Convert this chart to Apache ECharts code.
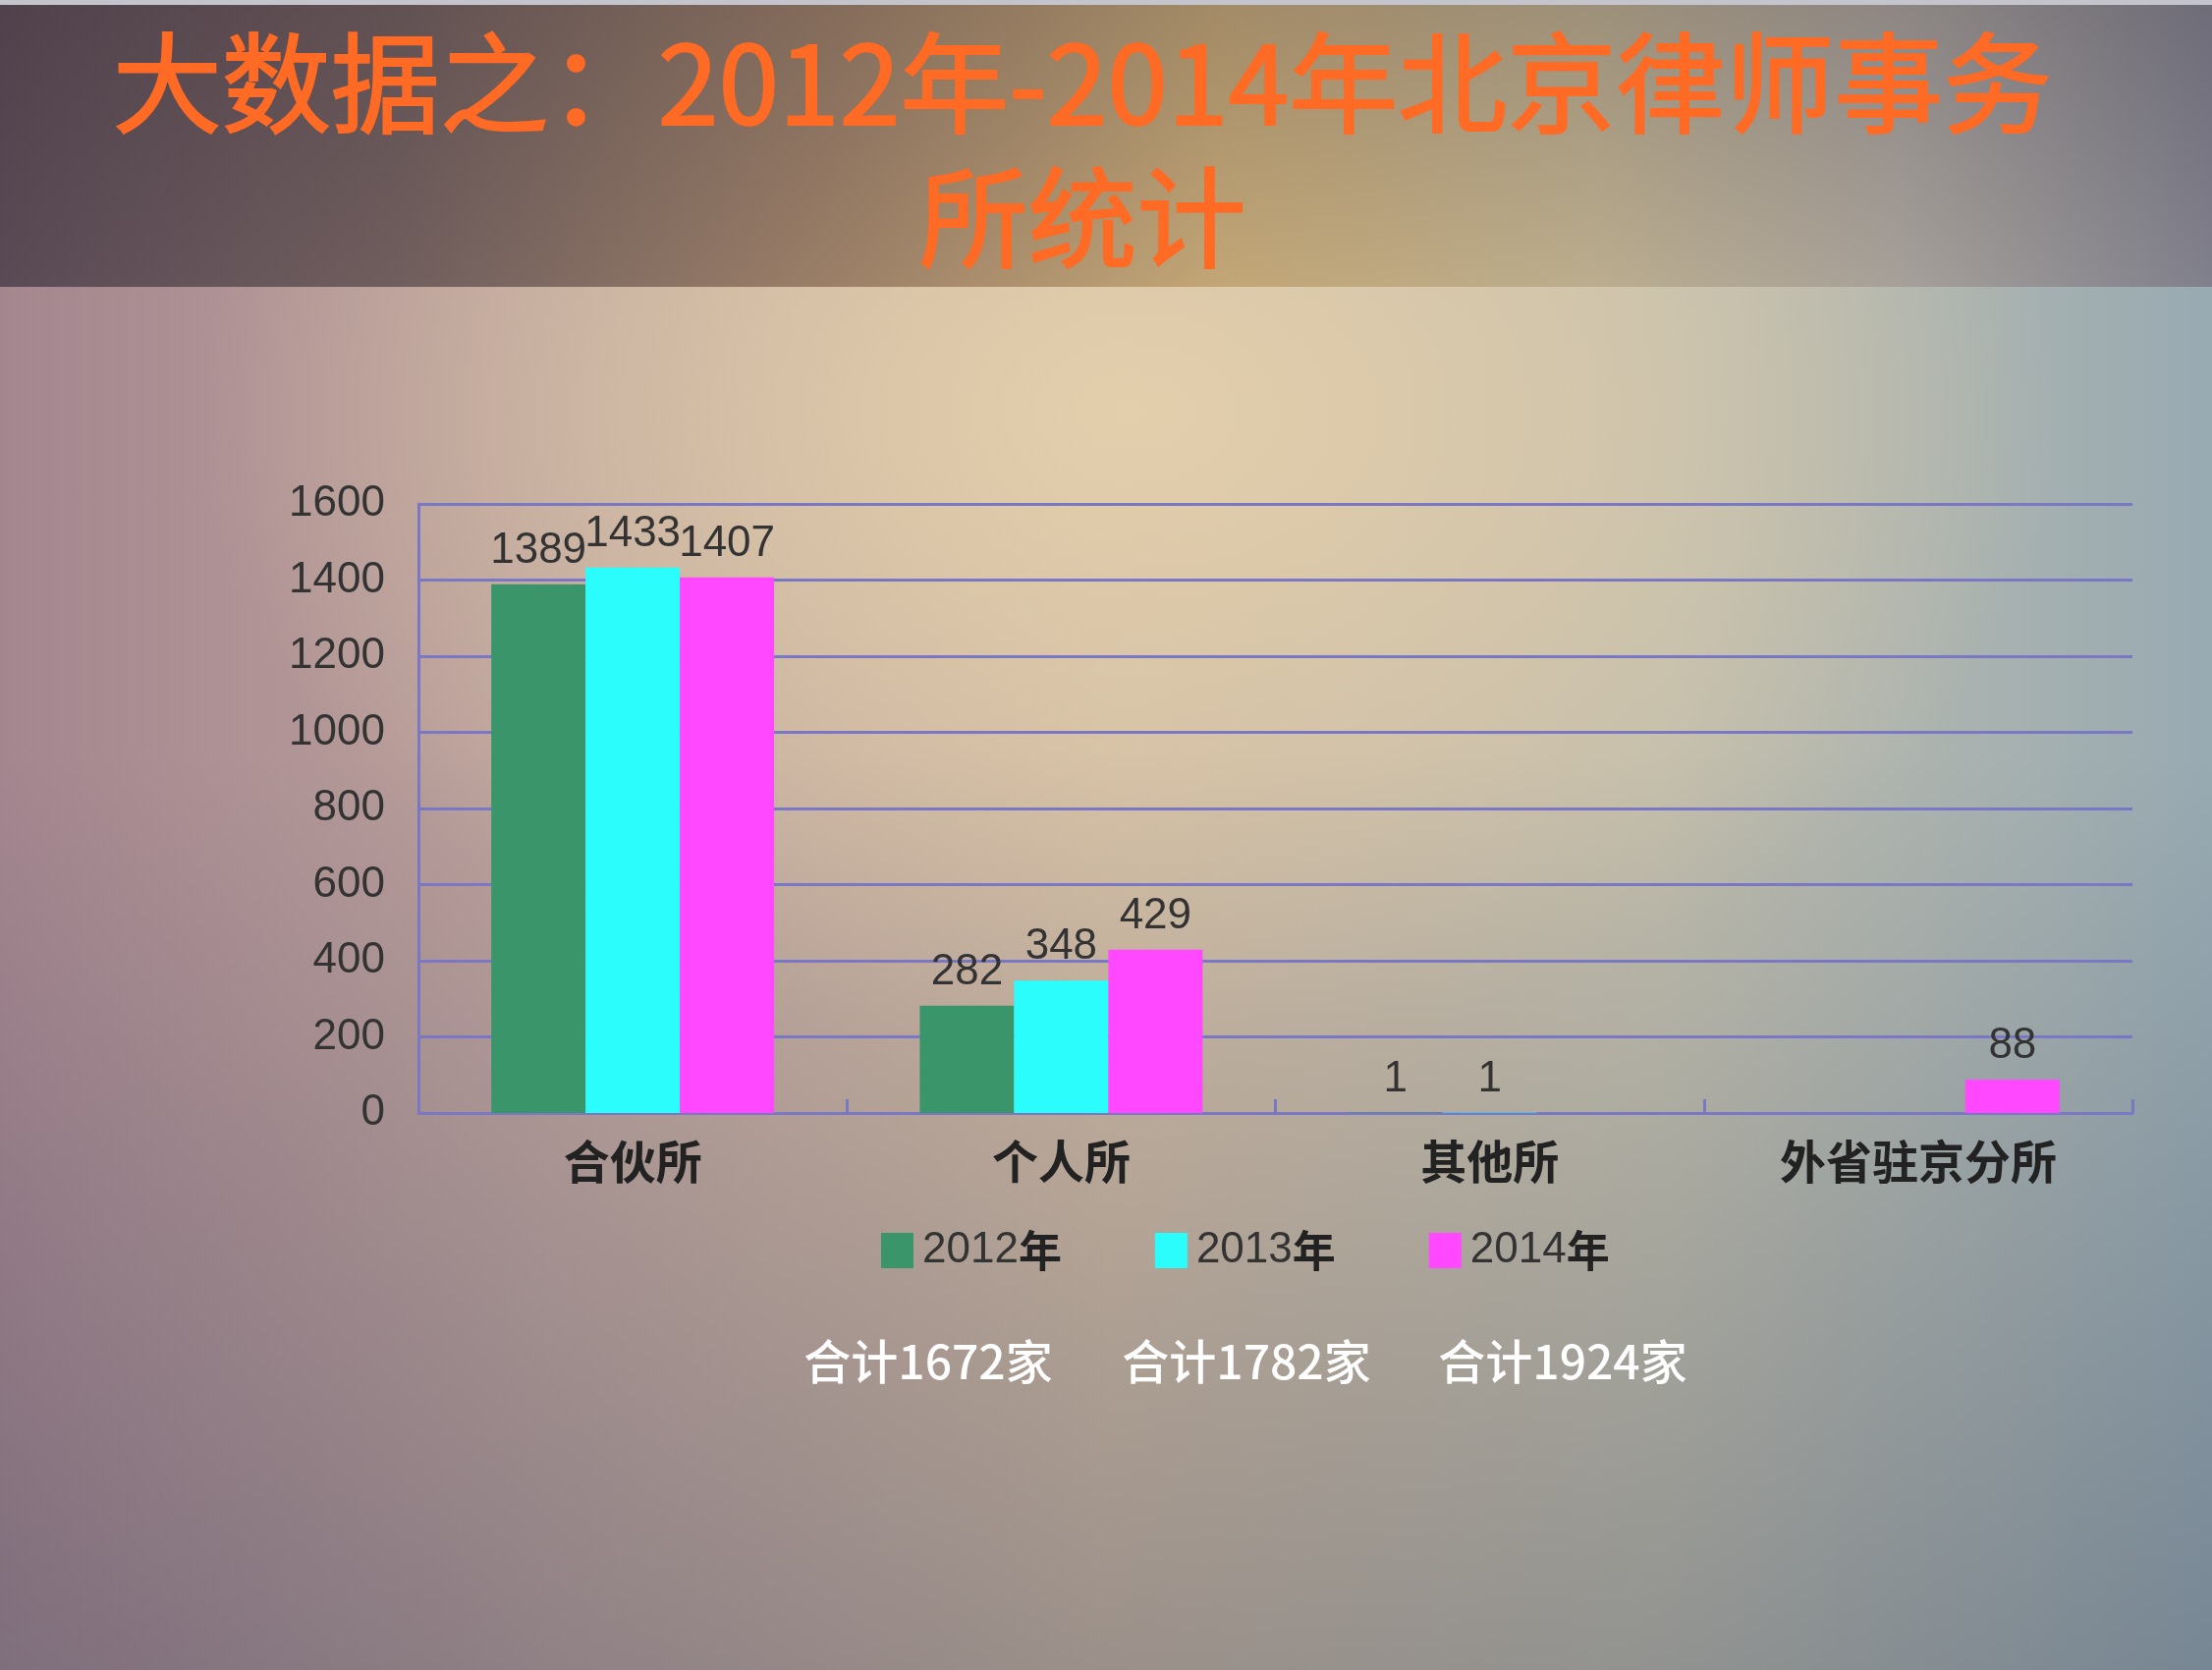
<!DOCTYPE html>
<html>
<head>
<meta charset="utf-8">
<script src="https://cdn.jsdelivr.net/npm/echarts@6/dist/echarts.min.js"></script>
<style>
html,body{margin:0;padding:0;width:2252px;height:1700px;overflow:hidden;}
#bg{position:absolute;left:0;top:0;width:2252px;height:1700px;
background:
 linear-gradient(to bottom, rgba(40,50,70,0) 45%, rgba(50,60,85,0.32) 100%),
 radial-gradient(ellipse 950px 650px at 1150px 420px, rgba(228,208,172,0.95) 0%, rgba(228,208,172,0) 100%),
 linear-gradient(to right, #a4868f 0%, #bca29c 25%, #cdb8a2 50%, #bfbcac 75%, #98aab2 100%);}
#band{position:absolute;left:0;top:5px;width:2252px;height:287px;
background:
 linear-gradient(to bottom, rgba(40,30,40,0.2) 0%, rgba(40,30,40,0) 100%),
 linear-gradient(to right, #5a4a55 0%, #705e5e 18%, #9c8068 38%, #c2a676 55%, #bbad8e 72%, #a6a09a 86%, #80808c 100%);}
#strip{position:absolute;left:0;top:0;width:2252px;height:5px;background:#c4c4cc;}
#chart{position:absolute;left:0;top:0;width:2252px;height:1700px;}
</style>
</head>
<body>
<div id="bg"></div><div id="band"></div><div id="strip"></div>
<div id="chart"></div>
<script>
const titleText = '大数据之：2012年-2014年北京律师事务\n所统计';
const categories = ['合伙所', '个人所', '其他所', '外省驻京分所'];
const seriesNames = ['2012年', '2013年', '2014年'];
const values2012 = [1389, 282, 1, '-'];
const values2013 = [1433, 348, 1, '-'];
const values2014 = [1407, 429, '-', 88];
const yTicks = { min: 0, max: 1600, interval: 200 };
const totalLabels = ['合计1672家', '合计1782家', '合计1924家'];

const colors = ['#3a966a', '#2bfdfd', '#ff48ff'];
const axisColor = '#7a78c4';
const numFont = "'Liberation Sans', 'Noto Sans CJK SC', sans-serif";
const cjkFont = "'Noto Sans CJK SC', 'Liberation Sans', sans-serif";

const chart = echarts.init(document.getElementById('chart'), null, { renderer: 'canvas' });
const allValues = [values2012, values2013, values2014];
const totalX = [945, 1269, 1591];

const option = {
  backgroundColor: 'transparent',
  animation: false,
  title: {
    text: titleText,
    left: 1097,
    top: 11,
    textAlign: 'center',
    textStyle: { color: '#ff6a24', fontSize: 111, lineHeight: 137, fontWeight: 'normal', fontFamily: cjkFont,
      textBorderColor: '#ff6a24', textBorderWidth: 2 }
  },
  legend: {
    data: seriesNames,
    left: 892,
    top: 1246,
    icon: 'rect',
    itemWidth: 33,
    itemHeight: 36,
    itemGap: 95,
    formatter: function (name) { return '{d|' + name.slice(0, 4) + '}{y|' + name.slice(4) + '}'; },
    textStyle: {
      padding: [0, 0, 0, 4],
      rich: {
        d: { fontSize: 44, color: '#333', fontFamily: numFont },
        y: { fontSize: 44, color: '#222', fontWeight: 'bold', fontFamily: cjkFont }
      }
    }
  },
  grid: { left: 426, top: 513, width: 1745, height: 620, containLabel: false },
  xAxis: {
    type: 'category',
    data: categories,
    axisLine: { lineStyle: { color: axisColor, width: 3 } },
    axisTick: { show: true, inside: true, length: 14, lineStyle: { color: axisColor, width: 3 } },
    axisLabel: { fontSize: 47, fontWeight: 'bold', color: '#222', margin: 26, fontFamily: cjkFont }
  },
  yAxis: {
    type: 'value',
    min: yTicks.min, max: yTicks.max, interval: yTicks.interval,
    axisLine: { show: true, lineStyle: { color: axisColor, width: 3 } },
    axisTick: { show: false },
    splitLine: { lineStyle: { color: axisColor, width: 3 } },
    axisLabel: { fontSize: 44, color: '#333', margin: 34, fontFamily: numFont, formatter: function (v) { return String(v); } }
  },
  series: seriesNames.map((n, i) => ({
    name: n,
    type: 'bar',
    data: allValues[i],
    barGap: '0%',
    barCategoryGap: '34%',
    itemStyle: { color: colors[i] },
    label: { show: true, position: 'top', distance: 12, fontSize: 44, color: '#333', fontFamily: numFont }
  })),
  graphic: totalLabels.map((t, i) => ({
    type: 'text',
    x: totalX[i],
    y: 1386,
    style: { text: t, fill: '#ffffff', fontSize: 48, fontWeight: 500, fontFamily: cjkFont, textAlign: 'center', textVerticalAlign: 'middle' }
  }))
};
chart.setOption(option);
</script>
</body>
</html>
